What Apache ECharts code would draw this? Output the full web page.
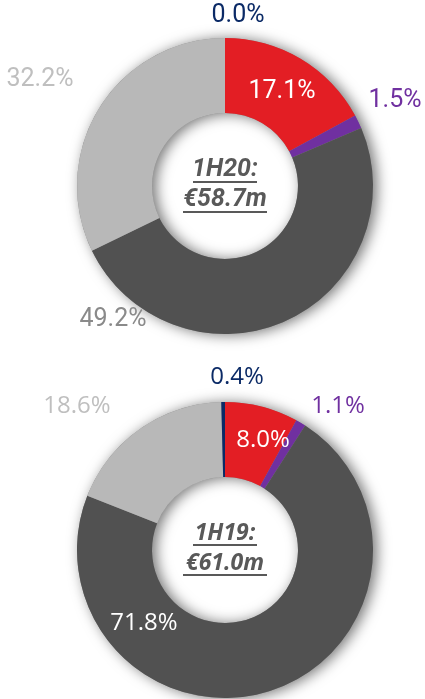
<!DOCTYPE html>
<html>
<head>
<meta charset="utf-8">
<script src="https://cdn.jsdelivr.net/npm/echarts@6/dist/echarts.min.js"></script>
<style>
  html, body { margin: 0; padding: 0; background: #fff; }
  #main { width: 425px; height: 699px; }
</style>
</head>
<body>
<div id="main"></div>
<script>
// 数据
var segments = ['Red', 'Purple', 'Dark grey', 'Light grey', 'Navy'];
var values1H20 = [17.1, 1.5, 49.2, 32.2, 0.0];
var values1H19 = [8.0, 1.1, 71.8, 18.6, 0.4];
var centerText1H20 = ['1H20:', '€58.7m'];
var centerText1H19 = ['1H19:', '€61.0m'];

var sliceColors = ['#e31e24', '#7030a0', '#515151', '#b8b8b8', '#0b2a66'];
var labelColors = ['#ffffff', '#7030a0', '#8a8a8a', '#bfbfbf', '#0b2a66'];
var labelColors19 = ['#ffffff', '#7030a0', '#ffffff', '#bfbfbf', '#0b2a66'];

// 标签位置 (中心点)
var labelPos = [
  [[282, 92], [395, 101], [113, 320], [40, 80], [238, 16]],
  [[263, 440], [338, 406], [144, 623], [77, 406], [237, 377]]
];

function makeData(vals, lblColors) {
  return vals.map(function (v, i) {
    return {
      name: segments[i],
      value: v,
      itemStyle: { color: sliceColors[i] },
      label: { color: lblColors[i] }
    };
  });
}

// 环形阴影
function ringShadow(center) {
  return {
    type: 'pie',
    silent: true,
    center: center,
    radius: [73, 148],
    label: { show: false },
    labelLine: { show: false },
    itemStyle: {
      color: '#8a8a8a',
      shadowBlur: 14,
      shadowOffsetX: 4,
      shadowOffsetY: 1,
      shadowColor: 'rgba(0,0,0,0.55)'
    },
    data: [{ value: 1 }]
  };
}

function mainPie(idx, center, data, font) {
  return {
    type: 'pie',
    center: center,
    radius: [73, 148],
    startAngle: 90,
    clockwise: true,
    avoidLabelOverlap: false,
    label: {
      show: true,
      formatter: function (p) { return p.value.toFixed(1) + '%'; },
      fontFamily: font,
      fontSize: idx === 0 ? 25 : 24
    },
    labelLine: { show: false },
    labelLayout: function (p) {
      var pos = labelPos[idx][p.dataIndex];
      return { x: pos[0], y: pos[1], align: 'center', verticalAlign: 'middle' };
    },
    emphasis: { disabled: true },
    data: data
  };
}

// 中心文字 + 下划线
function centerGraphics(cx, cy1, cy2, texts, font, size, w1, w2) {
  var col = '#595959';
  return [
    {
      type: 'text', x: cx, y: cy1,
      style: { text: texts[0], fill: col, font: 'italic bold ' + size + 'px ' + font, align: 'center', verticalAlign: 'middle' }
    },
    {
      type: 'text', x: cx, y: cy2,
      style: { text: texts[1], fill: col, font: 'italic bold ' + size + 'px ' + font, align: 'center', verticalAlign: 'middle' }
    },
    {
      type: 'line', shape: { x1: cx - w1 / 2, y1: cy1 + 12, x2: cx + w1 / 2, y2: cy1 + 12 },
      style: { stroke: col, lineWidth: 2 }
    },
    {
      type: 'line', shape: { x1: cx - w2 / 2, y1: cy2 + 12, x2: cx + w2 / 2, y2: cy2 + 12 },
      style: { stroke: col, lineWidth: 2 }
    }
  ];
}

var myChart = echarts.init(document.getElementById('main'));
var option = {
  animation: false,
  series: [
    ringShadow([225, 186]),
    ringShadow([225, 550]),
    mainPie(0, [225, 186], makeData(values1H20, labelColors), 'Roboto'),
    mainPie(1, [225, 550], makeData(values1H19, labelColors19), '"Open Sans"')
  ],
  graphic: centerGraphics(225, 170, 200, centerText1H20, 'Roboto', 25, 64, 84)
    .concat(centerGraphics(225, 533, 563, centerText1H19, '"Open Sans"', 23, 64, 84))
};
myChart.setOption(option);
window.addEventListener('resize', function () {
  myChart.resize();
});
</script>
</body>
</html>
